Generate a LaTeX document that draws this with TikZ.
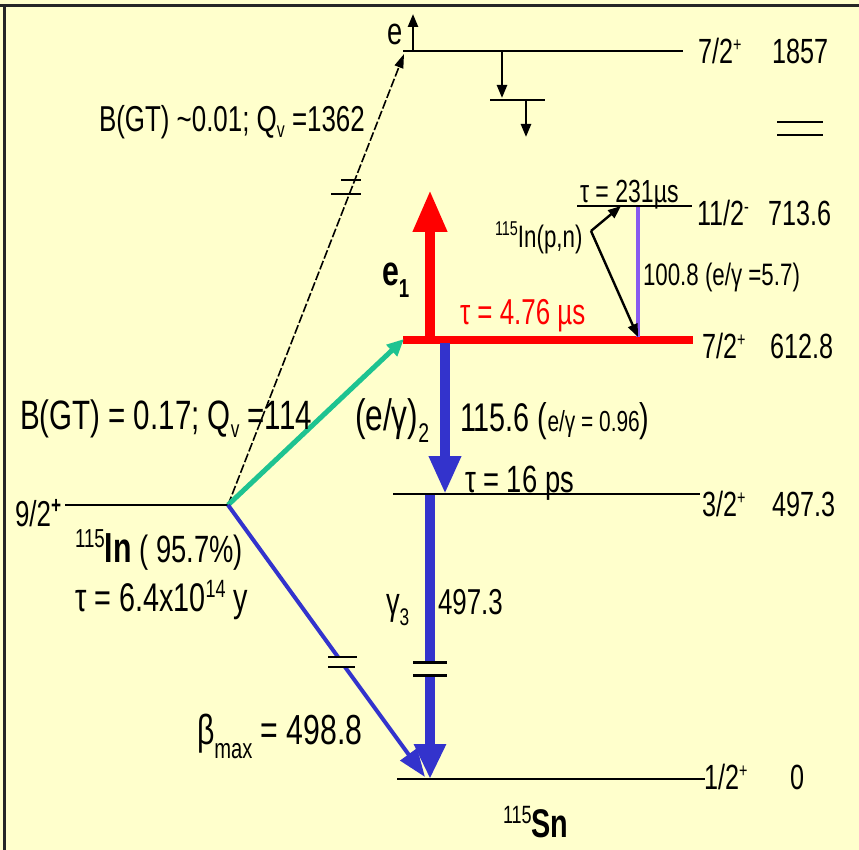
\documentclass[tikz,border=0pt]{standalone}
\usepackage{fontspec}
\setmainfont{Liberation Sans}[FakeStretch=0.72]
\usetikzlibrary{arrows.meta}
\definecolor{bgyel}{RGB}{255,255,204}
\definecolor{dblue}{RGB}{51,51,204}
\definecolor{dred}{RGB}{255,0,0}
\definecolor{dgreen}{RGB}{30,195,145}
\definecolor{dpurple}{RGB}{135,90,240}
\newcommand\fs[1]{\fontsize{#1}{#1}\selectfont}
\newcommand\upx[3]{\raisebox{#1pt}{\fs{#2}#3}}
\newcommand\dnx[3]{\raisebox{-#1pt}{\fs{#2}#3}}
\begin{document}
\begin{tikzpicture}[x=1pt,y=-1pt,
  txt/.style={anchor=base west,inner sep=0pt,outer sep=0pt},
  lvl/.style={line width=2.6pt,black},
  brk/.style={line width=2.6pt,black},
  smallarrow/.style={line width=2.4pt,black,-{Triangle[length=13pt,width=10pt]}},
  bigarrow/.style={line width=10pt,-{Triangle[length=38pt,width=30pt]}},
]
\fill[bgyel] (0,0) rectangle (859,850);
\useasboundingbox (0,0) rectangle (859,850);
\draw[line width=3pt,black!85] (0,6) -- (859,6);
\draw[line width=3pt,black!85] (4,4.5) -- (4,850);

% ---------- level coordinates
\coordinate (A1) at (403,51);  \coordinate (A2) at (683,51);
\coordinate (B1) at (577,206); \coordinate (B2) at (692,206);
\coordinate (C1) at (403,340); \coordinate (C2) at (693,340);
\coordinate (D1) at (393,494); \coordinate (D2) at (700,494);
\coordinate (E1) at (397,779); \coordinate (E2) at (705,779);
\coordinate (O)  at (228,505); \coordinate (F1) at (65,505);

% ---------- levels
\draw[lvl] (A1) -- (A2);
\draw[lvl] (B1) -- (B2);
\draw[lvl] (D1) -- (D2);
\draw[lvl] (E1) -- (E2);
\draw[lvl] (F1) -- (O);

% ---------- top level decorations
\coordinate (eb) at (413,51); \coordinate (et) at (413,14);
\draw[smallarrow] (eb) -- (et);
\coordinate (d1a) at (502,51); \coordinate (d1b) at (502,98);
\draw[smallarrow] (d1a) -- (d1b);
\coordinate (s1) at (490,100); \coordinate (s2) at (545,100);
\draw[lvl] (s1) -- (s2);
\coordinate (d2a) at (526,100); \coordinate (d2b) at (526,137);
\draw[smallarrow] (d2a) -- (d2b);
\coordinate (q1) at (777,122); \coordinate (q2) at (823,122);
\coordinate (q3) at (777,135); \coordinate (q4) at (823,135);
\draw[lvl] (q1) -- (q2);
\draw[lvl] (q3) -- (q4);

% ---------- B(GT)~0.01 dashed branch
\coordinate (topend) at (404,54);
\draw[line width=1.6pt,dash pattern=on 9pt off 2.5pt,-{Triangle[length=14pt,width=9pt]}] (O) -- (topend);
\coordinate (t1a) at (341,180); \coordinate (t1b) at (361,180);
\coordinate (t2a) at (331,194); \coordinate (t2b) at (361,194);
\draw[brk] (t1a) -- (t1b);
\draw[brk] (t2a) -- (t2b);

% ---------- red 612.8 level and e1 arrow
\draw[dred,line width=8pt] (C1) -- (C2);
\coordinate (r1) at (430,337); \coordinate (r2) at (430,190);
\draw[dred,line width=10pt,-{Triangle[length=42pt,width=32pt]}] (r1) -- (r2);

% ---------- green branch
\coordinate (gend) at (404,339);
\draw[dgreen,line width=5pt,-{Triangle[length=17pt,width=15pt]}] (O) -- (gend);

% ---------- gamma2
\coordinate (g2a) at (445,343); \coordinate (g2b) at (445,494);
\draw[dblue,bigarrow] (g2a) -- (g2b);

% ---------- gamma3 with break
\coordinate (g3a) at (430,495); \coordinate (g3b) at (430,662);
\coordinate (g3c) at (430,675); \coordinate (g3d) at (430,779);
\draw[dblue,line width=10pt] (g3a) -- (g3b);
\draw[dblue,line width=10pt,-{Triangle[length=35pt,width=30pt]}] (g3c) -- (g3d);
\coordinate (u1a) at (413,662); \coordinate (u1b) at (447,662);
\coordinate (u2a) at (413,675); \coordinate (u2b) at (447,675);
\draw[line width=3pt] (u1a) -- (u1b);
\draw[line width=3pt] (u2a) -- (u2b);

% ---------- beta branch with break
\coordinate (bb1) at (338,657); \coordinate (bb2) at (345,667);
\coordinate (bend) at (425,777);
\draw[dblue,line width=4pt] (O) -- (bb1);
\draw[dblue,line width=4pt,-{Triangle[length=28pt,width=20pt]}] (bb2) -- (bend);
\coordinate (v1a) at (328,657); \coordinate (v1b) at (357,657);
\coordinate (v2a) at (328,667); \coordinate (v2b) at (355,667);
\draw[line width=2.6pt] (v1a) -- (v1b);
\draw[line width=2.6pt] (v2a) -- (v2b);

% ---------- 11/2- level transitions
\coordinate (p1) at (638,207); \coordinate (p2) at (638,337);
\draw[dpurple,line width=3.5pt] (p1) -- (p2);
\coordinate (pn) at (591,231);
\coordinate (pnt1) at (621,206); \coordinate (pnt2) at (638,337);
\draw[smallarrow] (pn) -- (pnt1);
\draw[smallarrow] (pn) -- (pnt2);

% ---------- texts
\node[txt] (te) at (387,45) {\fs{38}e};
\node[txt] (tgt1) at (99,132) {\fs{36}B(GT) \textasciitilde0.01; Q\dnx{6}{22}{v} =1362};
\node[txt] (s1857) at (698,64) {\fs{35}7/2\upx{12}{20}{+}};
\node[txt] (e1857) at (772,64) {\fs{35}1857};
\node[txt] (tau231) at (580,203) {\fs{32}τ = 231µs};
\node[txt] (s713) at (697,226) {\fs{35}11/2\upx{12}{20}{-}};
\node[txt] (e713) at (768,226) {\fs{35}713.6};
\node[txt] (inpn) at (495,248) {\upx{13}{20}{115}\fs{31}In(p,n)};
\node[txt] (t1008) at (643,285) {\fs{31}100.8 (e/γ =5.7)};
\node[txt] (te1) at (382,285) {\fs{42}\textbf{e}\dnx{13}{26}{\textbf{1}}};
\node[txt,text=dred] (tau476) at (460,324) {\fs{36}τ = 4.76 µs};
\node[txt] (s612) at (702,358) {\fs{35}7/2\upx{12}{20}{+}};
\node[txt] (e612) at (770,358) {\fs{35}612.8};
\node[txt] (tgt2) at (20,429) {\fs{41}B(GT) = 0.17; Q\dnx{8}{24}{v} =114};
\node[txt] (teg2) at (355,430) {\fs{44}(e/γ)\dnx{12}{27}{2}};
\node[txt] (t1156) at (460,431) {\fs{40}115.6 (\fs{29}e/γ = 0.96\fs{40})};
\node[txt] (tau16) at (465,492) {\fs{38}τ = 16 ps};
\node[txt] (s497) at (702,516) {\fs{35}3/2\upx{12}{20}{+}};
\node[txt] (e497) at (772,516) {\fs{35}497.3};
\node[txt] (s92) at (15,526) {\fs{36}9/2\upx{13}{24}{\textbf{+}}};
\node[txt] (tin) at (75,562) {\upx{15}{26}{115}\fs{42}\textbf{In}\fs{38} ( 95.7\%)};
\node[txt] (ttau) at (75,611) {\fs{40}τ = 6.4x10\upx{14}{25}{14} y};
\node[txt] (tg3) at (386,614) {\fs{38}γ\dnx{11}{24}{3}};
\node[txt] (t4973) at (438,614) {\fs{36}497.3};
\node[txt] (tbeta) at (197,744) {\fs{42}β\dnx{14}{28}{max} = 498.8};
\node[txt] (s12) at (704,789) {\fs{35}1/2\upx{12}{20}{+}};
\node[txt] (e0) at (790,789) {\fs{35}0};
\node[txt] (tsn) at (503,837) {\upx{14}{25}{115}\fs{40}\textbf{Sn}};
\end{tikzpicture}
\end{document}
